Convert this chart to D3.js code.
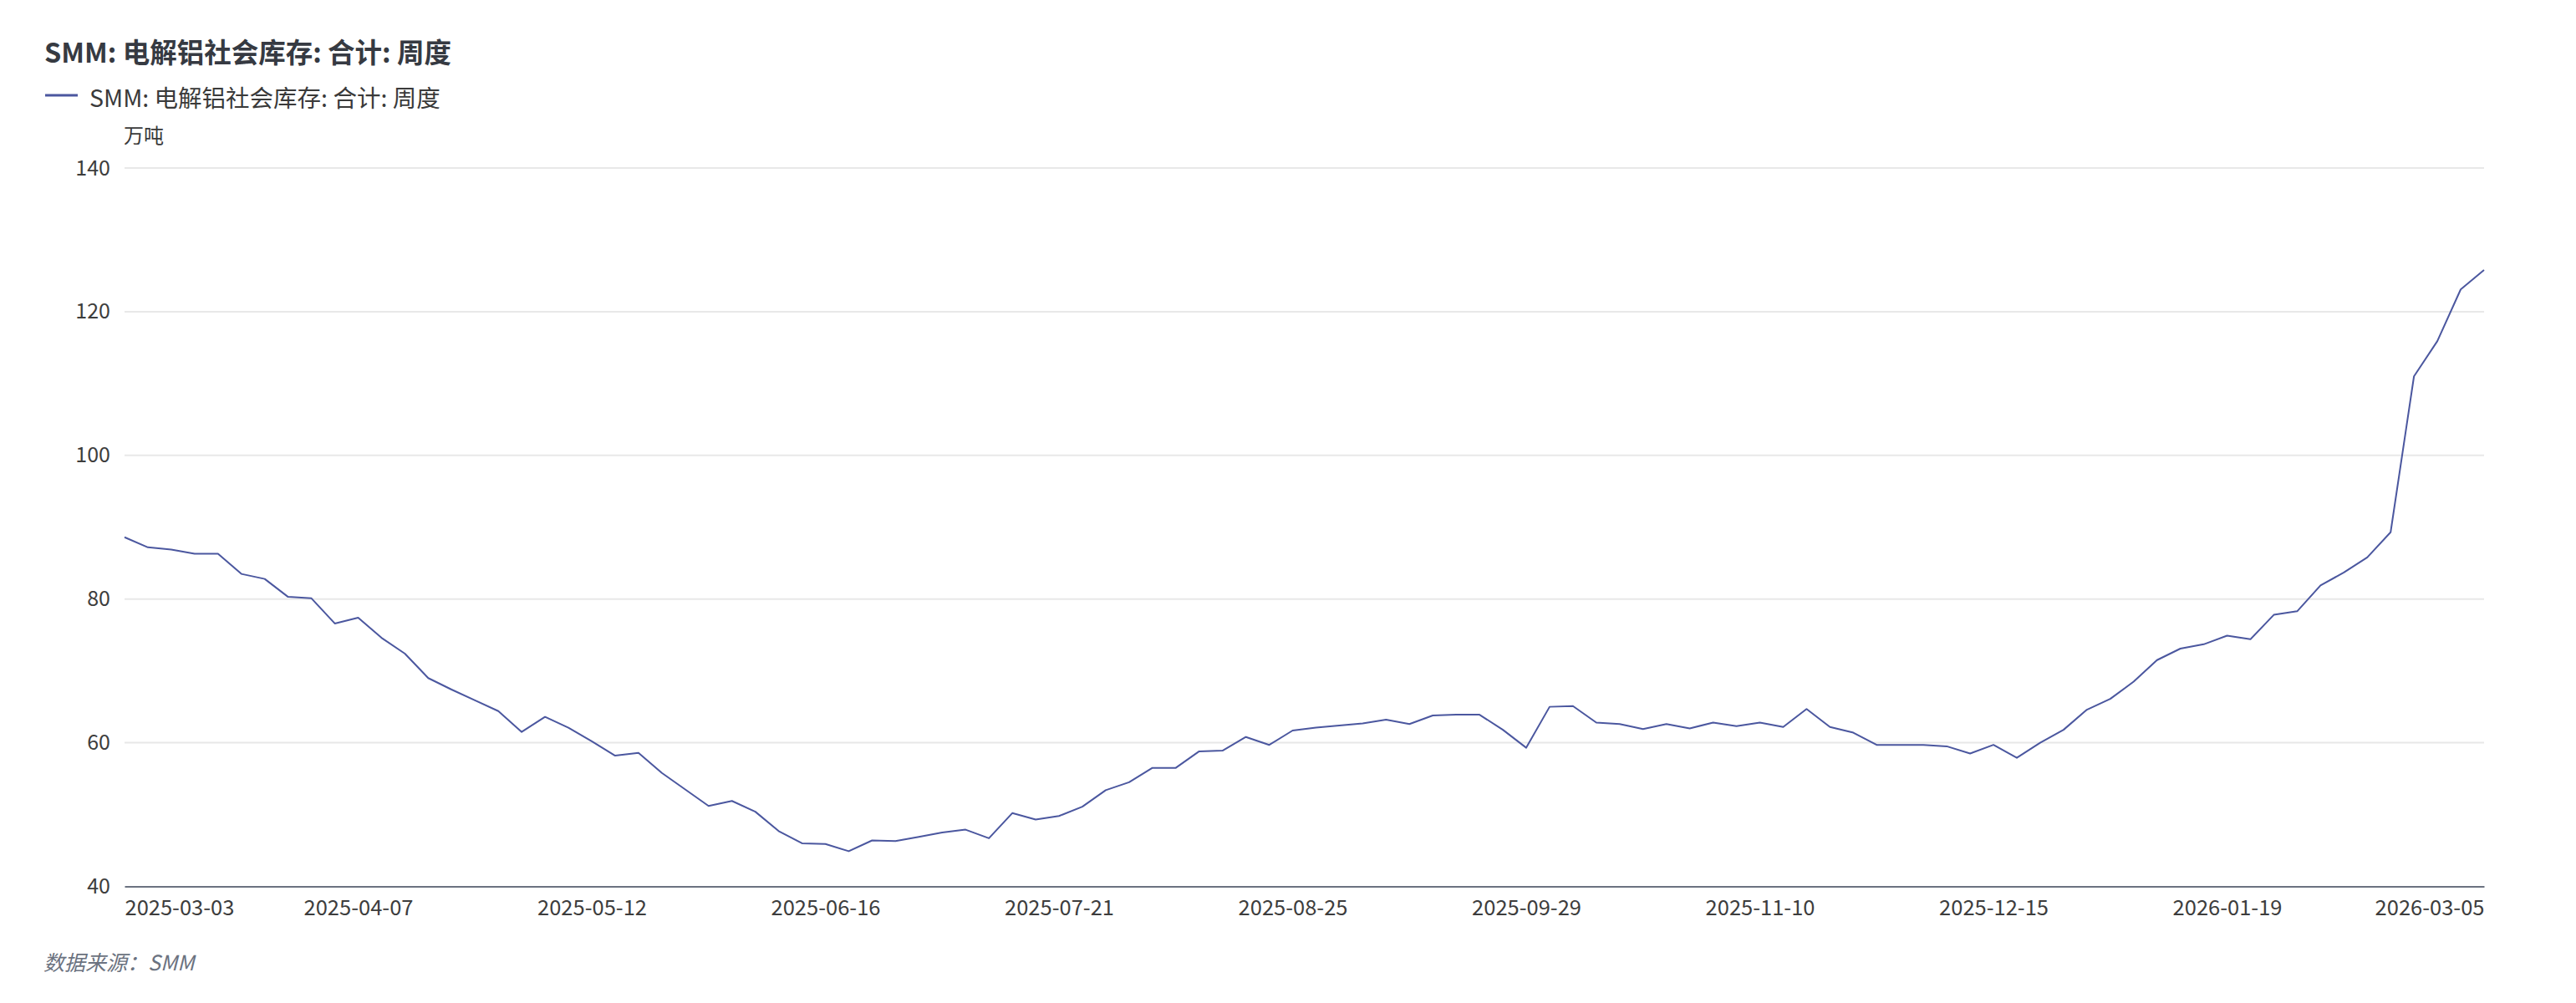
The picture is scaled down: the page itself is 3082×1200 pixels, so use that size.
<!DOCTYPE html>
<html><head><meta charset="utf-8">
<script src="https://cdn.jsdelivr.net/npm/d3@7"></script>
<style>
html,body{margin:0;padding:0;background:#fff;}
svg{display:block;font-family:"Noto Sans CJK SC","Noto Sans",sans-serif;}
</style></head><body>
<svg id="chart" width="3082" height="1200"></svg>
<script>
const titleText = "SMM: 电解铝社会库存: 合计: 周度";
const seriesName = "SMM: 电解铝社会库存: 合计: 周度";
const unitText = "万吨";
const sourceText = "数据来源：SMM";

const dates = [
"2025-03-03","2025-03-06","2025-03-10","2025-03-13","2025-03-17","2025-03-20","2025-03-24","2025-03-27","2025-03-31","2025-04-03",
"2025-04-07","2025-04-10","2025-04-14","2025-04-17","2025-04-21","2025-04-24","2025-04-28","2025-04-30","2025-05-06","2025-05-08",
"2025-05-12","2025-05-15","2025-05-19","2025-05-22","2025-05-26","2025-05-29","2025-06-03","2025-06-05","2025-06-09","2025-06-12",
"2025-06-16","2025-06-19","2025-06-23","2025-06-26","2025-06-30","2025-07-03","2025-07-07","2025-07-10","2025-07-14","2025-07-17",
"2025-07-21","2025-07-24","2025-07-28","2025-07-31","2025-08-04","2025-08-07","2025-08-11","2025-08-14","2025-08-18","2025-08-21",
"2025-08-25","2025-08-28","2025-09-01","2025-09-04","2025-09-08","2025-09-11","2025-09-15","2025-09-18","2025-09-22","2025-09-25",
"2025-09-29","2025-10-09","2025-10-13","2025-10-16","2025-10-20","2025-10-23","2025-10-27","2025-10-30","2025-11-03","2025-11-06",
"2025-11-10","2025-11-13","2025-11-17","2025-11-20","2025-11-24","2025-11-27","2025-12-01","2025-12-04","2025-12-08","2025-12-11",
"2025-12-15","2025-12-18","2025-12-22","2025-12-25","2025-12-29","2025-12-31","2026-01-05","2026-01-08","2026-01-12","2026-01-15",
"2026-01-19","2026-01-22","2026-01-26","2026-01-29","2026-02-02","2026-02-05","2026-02-09","2026-02-12","2026-02-26","2026-03-02",
"2026-03-05","2026-03-09"
];

const values = [
88.6,87.2,86.9,86.3,86.3,83.5,82.8,80.3,80.1,76.6,
77.4,74.6,72.4,69.0,67.4,65.9,64.4,61.5,63.6,62.1,
60.2,58.2,58.6,55.8,53.5,51.2,51.9,50.4,47.7,46.0,
45.9,44.9,46.4,46.3,46.9,47.5,47.9,46.7,50.2,49.3,
49.8,51.1,53.4,54.5,56.5,56.5,58.8,58.9,60.8,59.7,
61.7,62.1,62.4,62.7,63.2,62.6,63.8,63.9,63.9,61.8,
59.3,65.0,65.1,62.8,62.6,61.9,62.6,62.0,62.8,62.3,
62.8,62.2,64.7,62.2,61.4,59.7,59.7,59.7,59.5,58.5,
59.7,57.9,60.0,61.8,64.6,66.1,68.5,71.5,73.1,73.7,
74.9,74.4,77.8,78.3,81.9,83.7,85.8,89.3,111.0,115.9,
123.1,125.8
];

const yTicks = [40, 60, 80, 100, 120, 140];
const xTickLabels = ["2025-03-03","2025-04-07","2025-05-12","2025-06-16","2025-07-21","2025-08-25","2025-09-29","2025-11-10","2025-12-15","2026-01-19","2026-03-05"];

(function () {
const svg = d3.select("#chart");
const pL = 149, pR = 2972, pT = 201, pB = 1060.5;
const lineColor = "#4b579f";
const ff = "\"Noto Sans CJK SC\",\"Noto Sans\",sans-serif";

const x = d3.scalePoint().domain(dates).range([pL, pR]);
const y = d3.scaleLinear().domain([40, 140]).range([pB, pT]);

// title
svg.append("text").attr("x", 53).attr("y", 60).attr("dominant-baseline", "central")
  .attr("font-size", 32.5).attr("font-weight", "bold").attr("fill", "#363a42").text(titleText);

// legend
svg.append("line").attr("x1", 54).attr("x2", 93).attr("y1", 114).attr("y2", 114)
  .attr("stroke", lineColor).attr("stroke-width", 3);
svg.append("text").attr("x", 107).attr("y", 115).attr("dominant-baseline", "central")
  .attr("font-size", 28.5).attr("fill", "#3a3a3a").text(seriesName);

// unit
svg.append("text").attr("x", 148).attr("y", 160).attr("dominant-baseline", "central")
  .attr("font-size", 24).attr("fill", "#3a3a3a").text(unitText);

// gridlines
svg.append("g").selectAll("line").data(yTicks.filter(d => d !== 40)).join("line")
  .attr("x1", pL).attr("x2", pR).attr("y1", d => y(d)).attr("y2", d => y(d))
  .attr("stroke", "#e8e8e8").attr("stroke-width", 2);

// y axis
const yAxis = svg.append("g").attr("transform", `translate(${pL},0)`)
  .call(d3.axisLeft(y).tickValues(yTicks).tickSize(0).tickPadding(17));
yAxis.select(".domain").remove();
yAxis.selectAll("text").attr("font-size", 25).attr("fill", "#3d3d3d").attr("font-family", ff);

// x axis
const xAxis = svg.append("g").attr("transform", `translate(0,${pB})`)
  .call(d3.axisBottom(x).tickValues(xTickLabels).tickSize(0).tickPadding(16));
xAxis.select(".domain").attr("stroke", "#6b7280").attr("stroke-width", 2);
xAxis.selectAll("text").attr("font-size", 25.5).attr("fill", "#3d3d3d").attr("font-family", ff);
// keep edge labels inside the plot range
xAxis.selectAll(".tick").each(function(d) {
  const t = d3.select(this).select("text");
  const w = this.querySelector("text").getComputedTextLength();
  const px = x(d);
  if (px - w / 2 < pL) t.attr("text-anchor", "start").attr("x", pL - px);
  else if (px + w / 2 > pR) t.attr("text-anchor", "end").attr("x", pR - px);
});

// line
const line = d3.line().x((d, i) => x(dates[i])).y(d => y(d));
svg.append("path").datum(values).attr("d", line)
  .attr("fill", "none").attr("stroke", lineColor).attr("stroke-width", 2)
  .attr("stroke-linejoin", "round");

// source
svg.append("text").attr("x", 52).attr("y", 1150).attr("dominant-baseline", "central")
  .attr("font-size", 25).attr("font-style", "italic").attr("fill", "#6b7280").text(sourceText);
})();
</script>
</body></html>
